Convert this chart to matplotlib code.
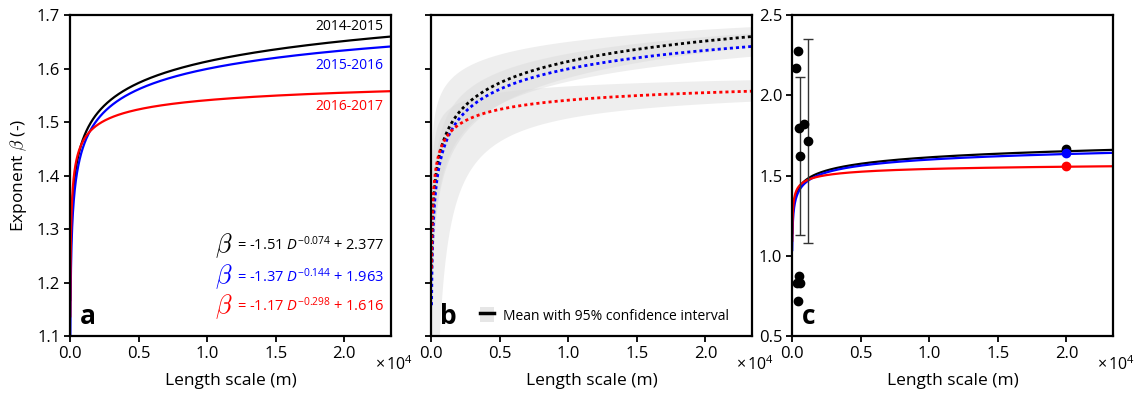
import numpy as np
import matplotlib
matplotlib.use("Agg")
import matplotlib.pyplot as plt
from matplotlib.patches import Patch
from matplotlib.lines import Line2D

plt.rcParams['font.family'] = ['Open Sans', 'DejaVu Sans']
plt.rcParams['mathtext.fontset'] = 'custom'
plt.rcParams['mathtext.rm'] = 'Open Sans'
plt.rcParams['mathtext.it'] = 'Open Sans:italic'
plt.rcParams['mathtext.bf'] = 'Open Sans:bold'

# power-law fits  beta = a * D^b + c  for each period
periods = ['2014-2015', '2015-2016', '2016-2017']
colors = ['black', 'blue', 'red']
fit_a = [-1.51, -1.37, -1.17]
fit_b = [-0.074, -0.144, -0.298]
fit_c = [2.377, 1.963, 1.616]

# 95% confidence envelopes, same form (a, b, c) for upper and lower bound
ci_upper = [(-0.878, -0.08, 2.070), (-1.20, -0.13, 1.990), (-0.80, -0.298, 1.618)]
ci_lower = [(-1.80, -0.085, 2.405), (-1.60, -0.16, 1.942), (-44.2, -0.70, 1.5766)]

# individual estimates (length scale in m, exponent)
pts_x = [460, 320, 490, 860, 1200, 590, 510, 340, 590, 420]
pts_y = [2.276, 2.172, 1.798, 1.819, 1.715, 1.623, 0.874, 0.832, 0.832, 0.718]
err_x = [590, 1200]
err_y = [1.623, 1.715]
err_size = [0.493, 0.634]
# exponent at 20 km per period
far_x = 20000
far_y = [1.666, 1.641, 1.560]

xticks = [0, 5000, 10000, 15000, 20000]
xticklabels = ['0.0', '0.5', '1.0', '1.5', '2.0']
xmax = 23400


def powerlaw(D, a, b, c):
    return a * D ** b + c


fig = plt.figure(figsize=(11.36, 3.94), dpi=100)
ax_a = fig.add_axes([0.0616, 0.1472, 0.2826, 0.8147])
ax_b = fig.add_axes([0.3794, 0.1472, 0.2826, 0.8147])
ax_c = fig.add_axes([0.6972, 0.1472, 0.2826, 0.8147])

for ax in (ax_a, ax_b, ax_c):
    ax.set_xlim(0, xmax)
    ax.set_xticks(xticks)
    ax.set_xticklabels(xticklabels)
    ax.tick_params(direction='out', length=4, width=1.3, labelsize=12, pad=3)
    for sp in ax.spines.values():
        sp.set_linewidth(1.6)
    ax.set_xlabel('Length scale (m)', fontsize=12.5, labelpad=8)
    ax.text(1.01, -0.09, r'$\times\,10^{4}$', transform=ax.transAxes,
            ha='center', va='center', fontsize=11.5)

# (a) fitted curves
D = np.linspace(20, xmax, 3000)
for i in range(3):
    ax_a.plot(D, powerlaw(D, fit_a[i], fit_b[i], fit_c[i]), color=colors[i], lw=1.6)
ax_a.set_ylim(1.1, 1.7)
ax_a.set_yticks(np.arange(1.1, 1.71, 0.1))
ax_a.set_ylabel(r'Exponent $\beta$ (-)', fontsize=12.5, labelpad=6, math_fontfamily='cm')

label_y = [0.963, 0.844, 0.715]
for i in range(3):
    ax_a.text(0.975, label_y[i], periods[i], color=colors[i], fontsize=10,
              transform=ax_a.transAxes, ha='right', va='center')

eq_y = [0.283, 0.184, 0.093]
for i in range(3):
    ax_a.text(0.505, eq_y[i], r'$\beta$', color=colors[i], fontsize=19,
              transform=ax_a.transAxes, ha='right', va='center', math_fontfamily='cm')
    eq = r'= %.2f $D^{%.3f}$ + %.3f' % (fit_a[i], fit_b[i], fit_c[i])
    ax_a.text(0.52, eq_y[i], eq, color=colors[i], fontsize=10.5,
              transform=ax_a.transAxes, ha='left', va='center')
ax_a.text(0.056, 0.06, 'a', transform=ax_a.transAxes, fontsize=19,
          fontweight='bold', ha='center', va='center')

# (b) curves with confidence bands
Db = np.linspace(1, xmax, 4000)
for i in range(3):
    up = powerlaw(Db, *ci_upper[i])
    lo = powerlaw(Db, *ci_lower[i])
    ax_b.fill_between(Db, lo, up, color='#dadada', alpha=0.45, lw=0)
Dm = np.linspace(40, xmax, 3000)
for i in range(3):
    ax_b.plot(Dm, powerlaw(Dm, fit_a[i], fit_b[i], fit_c[i]), color=colors[i],
              lw=2, dashes=(1.1, 1.1))
ax_b.set_ylim(1.1, 1.7)
ax_b.set_yticks(np.arange(1.1, 1.71, 0.1))
ax_b.set_yticklabels([])
handle = (Patch(facecolor='#e6e6e6', edgecolor='none'), Line2D([], [], color='k', lw=2.5))
ax_b.legend([handle], ['Mean with 95% confidence interval'], loc='lower left',
            bbox_to_anchor=(0.115, 0.0), frameon=False, fontsize=10,
            handlelength=1.0, handleheight=1.3, handletextpad=0.6)
ax_b.text(0.055, 0.06, 'b', transform=ax_b.transAxes, fontsize=19,
          fontweight='bold', ha='center', va='center')

# (c) fits against individual estimates
Dc = np.linspace(15, xmax, 3000)
for i in range(3):
    ax_c.plot(Dc, powerlaw(Dc, fit_a[i], fit_b[i], fit_c[i]), color=colors[i], lw=1.6)
ax_c.errorbar(err_x, err_y, yerr=err_size, fmt='none', ecolor='#333333',
              elinewidth=1.0, capsize=3.5, capthick=1.0)
ax_c.plot(pts_x, pts_y, 'o', color='black', ms=6, ls='none')
for i in range(3):
    ax_c.plot(far_x, far_y[i], 'o', color=colors[i], ms=6)
ax_c.set_ylim(0.5, 2.5)
ax_c.set_yticks([0.5, 1.0, 1.5, 2.0, 2.5])
ax_c.set_yticklabels(['0.5', '1.0', '1.5', '2.0', '2.5'])
ax_c.text(0.053, 0.06, 'c', transform=ax_c.transAxes, fontsize=19,
          fontweight='bold', ha='center', va='center')

fig.savefig('out.png', dpi=100)
